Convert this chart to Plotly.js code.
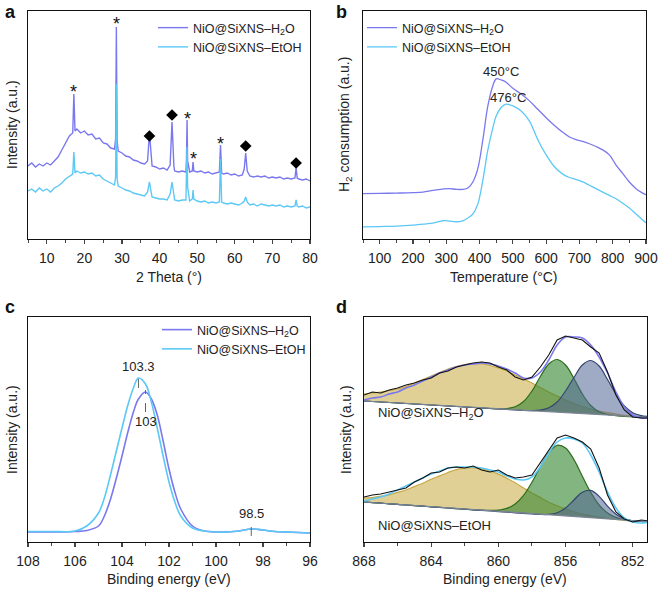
<!DOCTYPE html>
<html>
<head>
<meta charset="utf-8">
<script src="https://cdn.plot.ly/plotly-3.0.1.min.js"></script>
<style>
  body { margin: 0; background: #fff; }
  #plot { width: 658px; height: 589px; }
</style>
</head>
<body>
<div id="plot"></div>
<script>
// ---- panel a: XRD ----
let xrdAngle = [5,6,7,8,9,10,11,12,13,14,15,16,16.9,17.2,17.5,18,19,20,21,22,23,24,25,26,27,28,28.3,28.5,28.7,29,30,31,32,33,34,35,36,36.8,37.3,37.8,38,39,40,41,42,42.8,43.3,43.8,44,45,46,47,47.15,47.3,47.45,48,48.7,48.9,49.1,50,51,52,53,54,55,55.9,56.2,56.5,57,58,59,60,61,62,62.5,62.9,63.3,64,65,66,67,68,69,70,71,72,73,74,75,76,76.3,76.6,77,78,79,80];
let xrdH2O = [73,76,72,75,73,76,74,78,82,89,96,103,106,145,108,110,106,108,104,105,100,101,96,95,91,90,100,212,98,88,86,83,82,79,78,76,75,78,106,77,73,72,70,71,69,74,117,73,68,67,68,67,80,119,78,67,68,77,68,67,68,66,67,65,66,67,94,66,65,66,64,65,63,64,70,86,68,63,62,63,62,63,61,62,61,62,60,61,60,61,71,61,60,59,60,58];
let xrdEtOH = [48,50,47,51,48,50,47,51,53,56,60,63,65,87,66,68,66,67,65,66,63,64,60,58,56,54,62,155,60,53,51,49,48,46,45,44,43,47,57,46,42,41,40,40,39,45,57,44,39,38,39,39,55,92,52,38,40,49,40,38,37,38,36,37,36,37,80,37,36,35,36,35,34,36,38,42,37,34,35,33,35,34,33,34,33,34,32,33,32,33,39,33,32,33,31,32];
let starAngle = [17.2, 28.5, 47.3, 49, 56.2];
let starLevel = [151, 219, 124, 84, 99];
let nioAngle = [37.3, 43.3, 62.9, 76.3];
let nioLevel = [103, 124, 93, 76];

// ---- panel b: H2-TPR ----
let tprTemp = [50,100,150,200,230,260,290,310,330,350,365,380,395,410,425,440,450,465,480,500,525,550,575,600,625,650,670,690,710,730,750,770,790,810,830,850,870,890,900];
let tprH2O = [44.7,45,45.3,45.7,46.3,48,49.3,49.7,49,49,50.3,56.3,69.7,98,131.3,151.3,158,157,154.7,148.7,143,136.3,128,119.7,112,105.3,100.7,98,96.3,94,91.3,88,83,73,64.7,56.3,49.7,45.3,43.7];
let tprEtOH = [12,12.3,12.7,13.7,14.7,15.7,18,17.7,17,18,20.7,24.7,34.7,58,88,109.7,121.3,129.7,133,131.3,126.3,116.3,98,83,71.3,64,60.7,58.7,56.3,53,49.7,46.3,43,39.7,35.3,30.7,24.7,18.7,16];

// ---- panel c: Si 2p XPS ----
let siEnergy = [108,107,106,105.5,105,104.75,104.5,104.25,104,103.75,103.5,103.3,103,102.75,102.5,102.25,102,101.75,101.5,101,100.5,100,99.5,99,98.5,98,97.5,97,96];
let siH2O = [10,10,10.5,11.5,16,26,42,63,86,110,131,143,150,143,127,101,73,50,33,16,11,10,10,11,13,12,10.5,10,9];
let siEtOH = [10.5,10.5,11,16,29,44,66,90,114,137,155,164,158,140,114,86,60,40,26,14,11,10,10,11,13,12,10.5,10,9];
let siMarks = [103.3, 103, 98.5];

// ---- panel d: Ni 2p XPS ----
let niEnergy = [868,867.5,867,866.5,866,865.5,865,864.5,864,863.5,863,862.5,862,861.5,861,860.5,860,859.5,859,858.5,858,857.5,857,856.5,856,855.5,855,854.5,854,853.5,853,852.5,852,851.5,851];
let h2oRaw = [147,150,149,152,154,157,159,162,164,169,171,175,177,179,180,179,175,172,165,162,165,175,187,202,206,204,202,195,189,170,147,132,125,124,124];
let h2oFit = [142,144,145,148,150,154,157,161,165,169,172,175,177,178,179,178,176,173,169,164,164,170,182,197,205,205,204,197,185,169,150,135,127,124,124];
let h2oBase = [141,140.5,140,139.5,139,138.5,138,137.5,137,136.5,136,135.5,135,134.5,134,133.5,133,132.5,132,131.5,131,130.5,130,129.5,129,128.5,128,127.5,127,126.5,126,125.5,125,125,125];
let h2oSat = [7,8.5,10,12,14,17,21,25,29,33,37,40,42.5,44,44,43,41,38.5,35,31.5,28,24,20,16.5,13,10,7.5,5.5,4,2.8,1.8,1.1,0.7,0.4,0.2];
let h2oNi3 = [0,0,0,0,0,0,0,0,0,0,0,0,0,0,0,0,0.2,1,3.3,9,20,35,48,53,48,35,20,9,3.2,1,0.3,0,0,0,0];
let h2oNi2 = [0,0,0,0,0,0,0,0,0,0,0,0,0,0,0,0,0,0,0,0,0.4,1.4,4.3,10.5,22,36,49,54,49,36,22,10.5,4.3,1.4,0.4];
let etohRaw = [45,47,48,50,52,54,60,64,69,70,74,75,74,76,72,70,72,67,64,65,67,79,92,104,107,104,100,93,74,47,30,23,20,22,21];
let etohFit = [41,43,45,48,52,56,60,64,68,71,74,75,75,75,74,72,70,66,63,62,65,75,89,100,104,103,99,87,70,50,34,24,20,19,20];
let etohBase = [40,39.4,38.8,38.2,37.6,37,36.4,35.8,35.2,34.6,34,33.4,32.8,32.2,31.6,31,30.4,29.8,29.2,28.6,28,27.4,26.8,26.2,25.6,25,24.4,23.8,23.2,22.6,22,21.4,20.8,20.5,20.3];
let etohSat = [4,5,7,9,12,15,19,23,27.5,31.5,35.5,39,41,42,41.5,40,37.5,34,30,25.5,21,17,13,10,7.5,5.3,3.6,2.4,1.5,0.9,0.5,0.3,0.1,0,0];
let etohNi3 = [0,0,0,0,0,0,0,0,0,0,0,0,0,0,0.2,0.6,1.4,3.8,8.9,18,31.7,48,62.5,70.5,68.5,57.4,41.4,25.8,13.8,6.4,2.6,0.9,0.3,0,0];
let etohNi2 = [0,0,0,0,0,0,0,0,0,0,0,0,0,0,0,0,0,0,0,0,0,0.15,0.8,3,8.4,17,25.4,27.8,22.4,13.3,5.8,1.8,0.4,0,0];

let cH2O = "#7a78ee";
let cEtOH = "#5cc8f6";
let fontName = "Liberation Sans, Arial, sans-serif";
let lblH2O = "NiO@SiXNS–H<sub>2</sub>O";
let lblEtOH = "NiO@SiXNS–EtOH";

let W = 658, H = 589;
let px = v => v / W;
let py = v => 1 - v / H;

let data = [];

// panel a traces
data.push({x: xrdAngle, y: xrdH2O, mode: "lines", name: lblH2O, legendgroup: "a1", line: {color: cH2O, width: 1.4}, xaxis: "x", yaxis: "y", legend: "legend"});
data.push({x: xrdAngle, y: xrdEtOH, mode: "lines", name: lblEtOH, legendgroup: "a2", line: {color: cEtOH, width: 1.4}, xaxis: "x", yaxis: "y", legend: "legend"});
data.push({x: nioAngle, y: nioLevel, mode: "markers", marker: {symbol: "diamond", size: 9, color: "#000"}, showlegend: false, xaxis: "x", yaxis: "y", hoverinfo: "skip"});

// panel b traces
data.push({x: tprTemp, y: tprH2O, mode: "lines", name: lblH2O, legendgroup: "b1", line: {color: cH2O, width: 1.3, shape: "spline"}, xaxis: "x2", yaxis: "y2", legend: "legend2"});
data.push({x: tprTemp, y: tprEtOH, mode: "lines", name: lblEtOH, legendgroup: "b2", line: {color: cEtOH, width: 1.3, shape: "spline"}, xaxis: "x2", yaxis: "y2", legend: "legend2"});

// panel c traces
data.push({x: siEnergy, y: siH2O, mode: "lines", name: lblH2O, legendgroup: "c1", line: {color: cH2O, width: 1.6, shape: "spline"}, xaxis: "x3", yaxis: "y3", legend: "legend3"});
data.push({x: siEnergy, y: siEtOH, mode: "lines", name: lblEtOH, legendgroup: "c2", line: {color: cEtOH, width: 1.6, shape: "spline"}, xaxis: "x3", yaxis: "y3", legend: "legend3"});

// panel d traces: each component filled down to its baseline
function addGroup(base, comps, fit, raw, fitColor) {
  comps.forEach(c => {
    data.push({x: niEnergy, y: base, mode: "lines", line: {width: 0, color: "rgba(0,0,0,0)"}, showlegend: false, xaxis: "x4", yaxis: "y4", hoverinfo: "skip"});
    data.push({x: niEnergy, y: base.map((b, i) => b + c.h[i]), mode: "lines", fill: "tonexty", fillcolor: c.fill,
      line: {color: c.line, width: 1.2, shape: "spline"}, showlegend: false, xaxis: "x4", yaxis: "y4", hoverinfo: "skip"});
  });
  data.push({x: niEnergy, y: base, mode: "lines", line: {color: "#7d8597", width: 1.2}, showlegend: false, xaxis: "x4", yaxis: "y4"});
  data.push({x: niEnergy, y: fit, mode: "lines", line: {color: fitColor, width: 1.6, shape: "spline"}, showlegend: false, xaxis: "x4", yaxis: "y4"});
  data.push({x: niEnergy, y: raw, mode: "lines", line: {color: "#111", width: 1.1}, showlegend: false, xaxis: "x4", yaxis: "y4"});
}
let satStyle = {fill: "rgba(214,190,108,0.72)", line: "#c9a742"};
let ni3Style = {fill: "rgba(55,135,50,0.62)", line: "#2d6e1c"};
let ni2Style = {fill: "rgba(80,100,150,0.55)", line: "#34466f"};
addGroup(h2oBase, [Object.assign({h: h2oSat}, satStyle), Object.assign({h: h2oNi3}, ni3Style), Object.assign({h: h2oNi2}, ni2Style)], h2oFit, h2oRaw, cH2O);
addGroup(etohBase, [Object.assign({h: etohSat}, satStyle), Object.assign({h: etohNi3}, ni3Style), Object.assign({h: etohNi2}, ni2Style)], etohFit, etohRaw, cEtOH);

// axes
function xAx(dom, range, dtick, tick0, minorDtick, anchor) {
  return {domain: dom, range: range, anchor: anchor, dtick: dtick, tick0: tick0, ticks: "outside", ticklen: 4, tickwidth: 1.2,
    minor: {dtick: minorDtick, tick0: tick0, ticks: "outside", ticklen: 2.5, tickwidth: 1, showgrid: false},
    showline: true, mirror: true, linecolor: "#111", linewidth: 1.4, showgrid: false, zeroline: false,
    tickfont: {family: fontName, size: 14, color: "#222"}, ticklabelstandoff: 2, automargin: false};
}
function yAx(dom, range, anchor) {
  return {domain: dom, range: range, anchor: anchor, showticklabels: false, ticks: "", showline: true, mirror: true,
    linecolor: "#111", linewidth: 1.4, showgrid: false, zeroline: false, automargin: false};
}
let domL = [px(28), px(310)], domR = [px(363), px(646)];
let domT = [py(239), py(11)], domB = [py(542), py(317)];

let ann = [];
function txt(x, y, text, opts) {
  ann.push(Object.assign({x: x, y: y, text: text, showarrow: false, xanchor: "center", yanchor: "middle",
    font: {family: fontName, size: 14, color: "#222"}}, opts || {}));
}
let letterFont = {family: fontName, size: 18, color: "#111"};
// panel letters
txt(px(3), py(12), "<b>a</b>", {xref: "paper", yref: "paper", xanchor: "left", font: letterFont});
txt(px(334), py(12), "<b>b</b>", {xref: "paper", yref: "paper", xanchor: "left", font: letterFont});
txt(px(3), py(307), "<b>c</b>", {xref: "paper", yref: "paper", xanchor: "left", font: letterFont});
txt(px(334), py(307), "<b>d</b>", {xref: "paper", yref: "paper", xanchor: "left", font: letterFont});
// axis titles
txt(px(169), py(277), "2 Theta (°)", {xref: "paper", yref: "paper"});
txt(px(504), py(277), "Temperature (°C)", {xref: "paper", yref: "paper"});
txt(px(169), py(579), "Binding energy (eV)", {xref: "paper", yref: "paper"});
txt(px(505), py(579), "Binding energy (eV)", {xref: "paper", yref: "paper"});
txt(px(12), py(125), "Intensity (a.u.)", {xref: "paper", yref: "paper", textangle: -90});
txt(px(345), py(125), "H<sub>2</sub> consumption (a.u.)", {xref: "paper", yref: "paper", textangle: -90});
txt(px(12), py(430), "Intensity (a.u.)", {xref: "paper", yref: "paper", textangle: -90});
txt(px(346), py(430), "Intensity (a.u.)", {xref: "paper", yref: "paper", textangle: -90});
// panel a asterisks
starAngle.forEach((a, i) => txt(a, starLevel[i], "*", {xref: "x", yref: "y", yshift: -4, font: {family: fontName, size: 18, color: "#111"}}));
// panel b peak labels
txt(465, 165, "450°C", {xref: "x2", yref: "y2", font: {family: fontName, size: 13, color: "#222"}});
txt(485, 140, "476°C", {xref: "x2", yref: "y2", font: {family: fontName, size: 13, color: "#222"}});
// panel c peak labels
txt(siMarks[0], 176, "103.3", {xref: "x3", yref: "y3", font: {family: fontName, size: 13, color: "#222"}});
txt(siMarks[1], 121, "103", {xref: "x3", yref: "y3", font: {family: fontName, size: 13, color: "#222"}});
txt(siMarks[2], 29, "98.5", {xref: "x3", yref: "y3", font: {family: fontName, size: 13, color: "#222"}});
// panel d sample labels
txt(px(376), py(413), lblH2O, {xref: "paper", yref: "paper", xanchor: "left", font: {family: fontName, size: 13, color: "#222"}});
txt(px(376), py(525), lblEtOH, {xref: "paper", yref: "paper", xanchor: "left", font: {family: fontName, size: 13, color: "#222"}});

let markSpan = [[154, 169], [130, 152], [6, 20]];
let shapes = siMarks.map((e, i) => ({type: "line", xref: "x3", yref: "y3", x0: e, x1: e, y0: markSpan[i][0], y1: markSpan[i][1],
  line: {color: "#666", width: 1, dash: "dash"}}));

let legendBase = {xanchor: "left", yanchor: "top", bgcolor: "rgba(0,0,0,0)", borderwidth: 0, traceorder: "normal",
  font: {family: fontName, size: 12.5, color: "#222"}, itemwidth: 30, tracegroupgap: 3};

let layout = {
  width: W, height: H,
  margin: {l: 0, r: 0, t: 0, b: 0},
  paper_bgcolor: "#fff", plot_bgcolor: "#fff",
  showlegend: true,
  xaxis: xAx(domL, [5, 80], 10, 0, 5, "y"),
  yaxis: yAx(domT, [0, 228], "x"),
  xaxis2: xAx(domR, [50, 900], 100, 0, 50, "y2"),
  yaxis2: yAx(domT, [0, 225], "x2"),
  xaxis3: xAx(domL, [108, 96], 2, 96, 1, "y3"),
  yaxis3: yAx(domB, [0, 225], "x3"),
  xaxis4: xAx([px(364), px(647)], [868, 851.15], 4, 852, 2, "y4"),
  yaxis4: yAx(domB, [0, 225], "x4"),
  legend: Object.assign({}, legendBase, {x: px(153), y: py(13)}),
  legend2: Object.assign({}, legendBase, {x: px(362), y: py(13)}),
  legend3: Object.assign({}, legendBase, {x: px(157), y: py(315)}),
  annotations: ann,
  shapes: shapes
};

Plotly.newPlot("plot", data, layout, {displayModeBar: false, staticPlot: true});
</script>
</body>
</html>
